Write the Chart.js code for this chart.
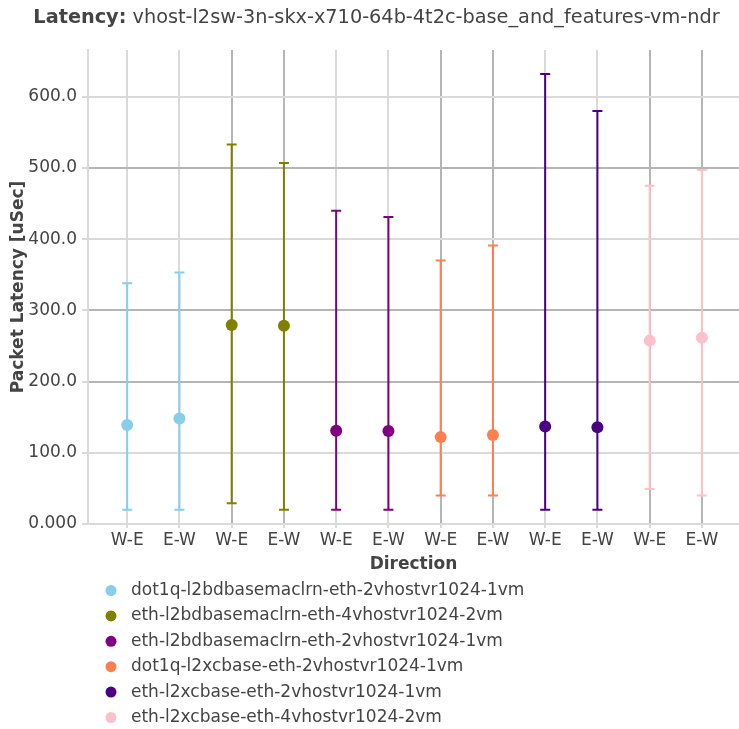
<!DOCTYPE html>
<html>
<head>
<meta charset="utf-8">
<script src="https://cdn.jsdelivr.net/npm/chart.js@4.4.1/dist/chart.umd.min.js"></script>
<style>
  html, body { margin: 0; padding: 0; background: #fff; }
  #wrap { width: 739px; height: 729px; }
</style>
</head>
<body>
<div id="wrap"><canvas id="chart" width="739" height="729"></canvas></div>
<script>
// categories on the x axis
const categories = ["W-E", "E-W", "W-E", "E-W", "W-E", "E-W", "W-E", "E-W", "W-E", "E-W", "W-E", "E-W"];

const seriesNames = [
    "dot1q-l2bdbasemaclrn-eth-2vhostvr1024-1vm",
    "eth-l2bdbasemaclrn-eth-4vhostvr1024-2vm",
    "eth-l2bdbasemaclrn-eth-2vhostvr1024-1vm",
    "dot1q-l2xcbase-eth-2vhostvr1024-1vm",
    "eth-l2xcbase-eth-2vhostvr1024-1vm",
    "eth-l2xcbase-eth-4vhostvr1024-2vm"
];
const seriesColors = ["#87ceeb", "#808000", "#800080", "#ff7f50", "#4b0082", "#ffc0cb"];

// which category each point of a series sits on
const seriesCats = [[0, 1], [2, 3], [4, 5], [6, 7], [8, 9], [10, 11]];

// average latency (marker), min and max (error bars)
const avgValues = [[139, 148], [279.5, 278.5], [131, 130.5], [122, 125], [137, 136], [257.5, 261.5]];
const minValues = [[20, 20], [29, 20], [20, 20], [40, 40], [20, 20], [49, 40]];
const maxValues = [[338, 353], [533, 507], [440, 431], [370, 391], [632, 580], [475, 497]];

const yTicks = [0, 100, 200, 300, 400, 500, 600];

const textColor = "#444";
const gridLight = "#dadada";
const gridDark = "#b5b5b5";
const darkCols = [2, 3, 6, 7, 10, 11];
const darkRows = [200, 300, 500];

const datasets = seriesNames.map((name, i) => ({
    label: name,
    data: seriesCats[i].map((c, j) => ({ x: c, y: avgValues[i][j] })),
    backgroundColor: seriesColors[i],
    borderColor: seriesColors[i],
    pointRadius: 6,
    pointHoverRadius: 6,
    pointBorderWidth: 0,
    showLine: false
}));

// min/max error bars drawn under the markers
const errorBars = {
    id: "errorBars",
    beforeDatasetsDraw(chart) {
        const ctx = chart.ctx;
        const xs = chart.scales.x, ys = chart.scales.y;
        ctx.save();
        ctx.lineWidth = 2;
        seriesNames.forEach((n, i) => {
            ctx.strokeStyle = seriesColors[i];
            seriesCats[i].forEach((c, j) => {
                const x = xs.getPixelForValue(c);
                const y1 = ys.getPixelForValue(minValues[i][j]);
                const y2 = ys.getPixelForValue(maxValues[i][j]);
                ctx.beginPath();
                ctx.moveTo(x, y1); ctx.lineTo(x, y2);
                ctx.moveTo(x - 5, y1); ctx.lineTo(x + 5, y1);
                ctx.moveTo(x - 5, y2); ctx.lineTo(x + 5, y2);
                ctx.stroke();
            });
        });
        ctx.restore();
    }
};

// title with bold prefix + vertical legend list
const extras = {
    id: "extras",
    afterDraw(chart) {
        const ctx = chart.ctx;
        ctx.save();
        ctx.fillStyle = textColor;
        ctx.textBaseline = "middle";
        const boldPart = "Latency:";
        const restPart = " vhost-l2sw-3n-skx-x710-64b-4t2c-base_and_features-vm-ndr";
        ctx.font = "bold 19.3px 'DejaVu Sans'";
        const w1 = ctx.measureText(boldPart).width;
        ctx.font = "19.3px 'DejaVu Sans'";
        const w2 = ctx.measureText(restPart).width;
        const x0 = 376.5 - (w1 + w2) / 2;
        ctx.textAlign = "left";
        ctx.font = "bold 19.3px 'DejaVu Sans'";
        ctx.fillText(boldPart, x0, 18);
        ctx.font = "19.3px 'DejaVu Sans'";
        ctx.fillText(restPart, x0 + w1, 18);

        ctx.font = "17px 'DejaVu Sans'";
        seriesNames.forEach((name, i) => {
            const y = 590.5 + i * 25.4;
            ctx.fillStyle = seriesColors[i];
            ctx.beginPath();
            ctx.arc(111, y, 5.5, 0, Math.PI * 2);
            ctx.fill();
            ctx.fillStyle = textColor;
            ctx.fillText(name, 131, y);
        });
        ctx.restore();
    }
};

new Chart(document.getElementById("chart"), {
    type: "scatter",
    data: { datasets },
    options: {
        responsive: false,
        animation: false,
        layout: { autoPadding: false, padding: { top: 50, bottom: 151, left: 0, right: 0 } },
        plugins: {
            legend: { display: false },
            title: { display: false },
            tooltip: { enabled: false }
        },
        scales: {
            x: {
                type: "linear",
                min: -0.75,
                max: 11.71,
                afterFit: s => { s.height = 54; s.paddingLeft = 0; s.paddingRight = 0; },
                afterBuildTicks: s => { s.ticks = categories.map((c, i) => ({ value: i })); },
                ticks: {
                    autoSkip: false,
                    maxRotation: 0,
                    padding: 2,
                    color: textColor,
                    font: { family: "DejaVu Sans", size: 17 },
                    callback: v => categories[v]
                },
                grid: {
                    lineWidth: 2,
                    color: c => darkCols.includes(c.tick && c.tick.value) ? gridDark : gridLight,
                    tickLength: 4,
                    tickColor: gridLight
                },
                border: { display: false },
                title: {
                    display: true,
                    text: "Direction",
                    color: textColor,
                    font: { family: "DejaVu Sans", size: 17, weight: "bold" },
                    padding: { top: 0, bottom: 3 }
                }
            },
            y: {
                min: 0,
                max: 665.6,
                afterFit: s => { s.width = 88; s.paddingTop = 0; s.paddingBottom = 0; },
                afterBuildTicks: s => { s.ticks = yTicks.map(v => ({ value: v })); },
                ticks: {
                    padding: 5,
                    color: textColor,
                    font: { family: "DejaVu Sans", size: 17 },
                    callback: v => v === 0 ? "0.000" : v.toFixed(1)
                },
                grid: {
                    lineWidth: 2,
                    color: c => darkRows.includes(c.tick && c.tick.value) ? gridDark : gridLight,
                    tickLength: 6,
                    tickColor: gridLight
                },
                border: { display: true, color: gridLight, width: 2 },
                title: {
                    display: true,
                    text: "Packet Latency [uSec]",
                    color: textColor,
                    font: { family: "DejaVu Sans", size: 17, weight: "bold" },
                    padding: { top: 8, bottom: 0 }
                }
            }
        }
    },
    plugins: [errorBars, extras]
});
</script>
</body>
</html>
